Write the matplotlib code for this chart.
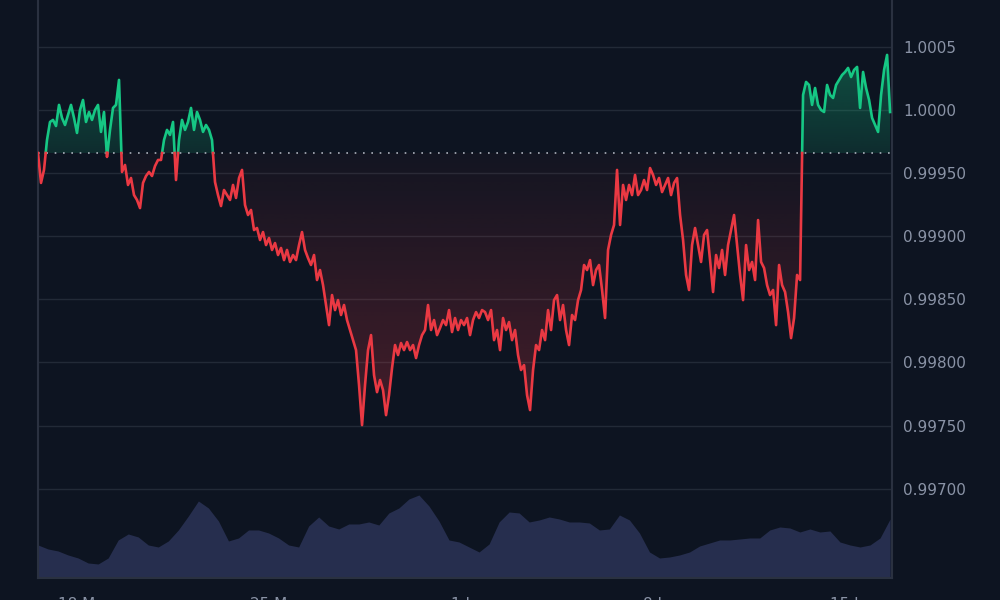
import numpy as np
import pandas as pd
import matplotlib
matplotlib.use("Agg")
import matplotlib.pyplot as plt
import matplotlib.dates as mdates
from matplotlib.colors import to_rgb

# colours
bg = "#0d1421"
green = "#16c784"
red = "#ea3943"
vol_color = "#262e4e"
grid_color = "#222a37"
text_color = "#8a93a6"

# price series (~2.6 h steps)
prices = [
    0.999659, 0.999422, 0.999525, 0.999762, 0.999905, 0.999921, 0.999873, 1.000040,
    0.999937, 0.999881, 0.999960, 1.000040, 0.999937, 0.999818, 1.000000, 1.000079,
    0.999905, 0.999984, 0.999921, 1.000000, 1.000040, 0.999826, 0.999984, 0.999628,
    0.999842, 1.000016, 1.000040, 1.000238, 0.999509, 0.999564, 0.999406, 0.999461,
    0.999326, 0.999287, 0.999223, 0.999422, 0.999477, 0.999509, 0.999477, 0.999556,
    0.999604, 0.999604, 0.999762, 0.999842, 0.999802, 0.999905, 0.999445, 0.999762,
    0.999921, 0.999842, 0.999905, 1.000016, 0.999842, 0.999984, 0.999921, 0.999826,
    0.999881, 0.999842, 0.999762, 0.999429, 0.999326, 0.999239, 0.999366, 0.999326,
    0.999287, 0.999406, 0.999303, 0.999461, 0.999525, 0.999247, 0.999168, 0.999208,
    0.999049, 0.999065, 0.998970, 0.999033, 0.998930, 0.998986, 0.998891, 0.998946,
    0.998851, 0.998907, 0.998811, 0.998891, 0.998796, 0.998851, 0.998811, 0.998930,
    0.999033, 0.998891, 0.998827, 0.998772, 0.998851, 0.998653, 0.998732, 0.998613,
    0.998455, 0.998296, 0.998534, 0.998415, 0.998494, 0.998376, 0.998455, 0.998336,
    0.998257, 0.998177, 0.998098, 0.997821, 0.997504, 0.997821, 0.998098, 0.998217,
    0.997900, 0.997765, 0.997861, 0.997781, 0.997583, 0.997742, 0.997956, 0.998138,
    0.998059, 0.998154, 0.998098, 0.998162, 0.998098, 0.998138, 0.998035, 0.998138,
    0.998217, 0.998257, 0.998455, 0.998257, 0.998336, 0.998217, 0.998273, 0.998336,
    0.998296, 0.998415, 0.998241, 0.998352, 0.998257, 0.998336, 0.998296, 0.998352,
    0.998217, 0.998336, 0.998399, 0.998352, 0.998415, 0.998399, 0.998336, 0.998415,
    0.998177, 0.998257, 0.998098, 0.998352, 0.998257, 0.998320, 0.998177, 0.998257,
    0.998059, 0.997940, 0.997979, 0.997742, 0.997623, 0.997940, 0.998138, 0.998098,
    0.998257, 0.998177, 0.998415, 0.998257, 0.998494, 0.998534, 0.998336, 0.998455,
    0.998257, 0.998138, 0.998376, 0.998336, 0.998494, 0.998574, 0.998772, 0.998732,
    0.998811, 0.998613, 0.998732, 0.998772, 0.998574, 0.998352, 0.998891, 0.999010,
    0.999089, 0.999525, 0.999089, 0.999406, 0.999287, 0.999406, 0.999326, 0.999485,
    0.999326, 0.999366, 0.999445, 0.999366, 0.999540, 0.999485, 0.999406, 0.999461,
    0.999350, 0.999406, 0.999461, 0.999326, 0.999422, 0.999461, 0.999168, 0.998970,
    0.998693, 0.998574, 0.998930, 0.999065, 0.998930, 0.998796, 0.999010, 0.999049,
    0.998811, 0.998558, 0.998851, 0.998748, 0.998891, 0.998693, 0.998930, 0.999049,
    0.999168, 0.998930, 0.998693, 0.998494, 0.998930, 0.998732, 0.998796, 0.998653,
    0.999128, 0.998796, 0.998748, 0.998613, 0.998534, 0.998574, 0.998296, 0.998772,
    0.998613, 0.998558, 0.998399, 0.998193, 0.998352, 0.998693, 0.998653, 1.000119,
    1.000222, 1.000198, 1.000040, 1.000174, 1.000040, 1.000000, 0.999984, 1.000198,
    1.000119, 1.000095, 1.000198, 1.000238, 1.000277, 1.000301, 1.000333, 1.000261,
    1.000317, 1.000341, 1.000016, 1.000301, 1.000174, 1.000079, 0.999937, 0.999881,
    0.999826, 1.000119, 1.000317, 1.000436, 0.999984,
]

# volume, billions (~8.7 h steps)
volume = [
    3.3, 2.9, 2.7, 2.3, 2.0, 1.5, 1.4, 2.0, 3.8, 4.4, 4.1, 3.3, 3.1, 3.7, 4.8, 6.2,
    7.7, 7.0, 5.7, 3.7, 4.0, 4.8, 4.8, 4.5, 4.0, 3.3, 3.1, 5.2, 6.1, 5.2, 4.9, 5.4,
    5.4, 5.6, 5.3, 6.5, 7.0, 7.9, 8.3, 7.2, 5.7, 3.8, 3.6, 3.1, 2.6, 3.4, 5.6, 6.6,
    6.5, 5.6, 5.8, 6.1, 5.9, 5.6, 5.6, 5.5, 4.8, 4.9, 6.3, 5.8, 4.5, 2.6, 2.0, 2.1,
    2.3, 2.6, 3.2, 3.5, 3.8, 3.8, 3.9, 4.0, 4.0, 4.8, 5.1, 5.0, 4.6, 4.9, 4.6, 4.7,
    3.6, 3.3, 3.1, 3.3, 4.0, 5.9,
]

start = "2024-05-16 06:00"
end = "2024-06-16 07:30"
ytick_vals = [0.9970, 0.9975, 0.9980, 0.9985, 0.9990, 0.9995, 1.0000, 1.0005]
ytick_labels = ["0.99700", "0.99750", "0.99800", "0.99850", "0.99900", "0.99950", "1.0000", "1.0005"]
xtick_dates = ["2024-05-18", "2024-05-25", "2024-06-01", "2024-06-08", "2024-06-15"]
xtick_labels = ["18 May", "25 May", "1 Jun", "8 Jun", "15 Jun"]

x = mdates.date2num(pd.date_range(start, end, periods=len(prices)))
xv = mdates.date2num(pd.date_range(start, end, periods=len(volume)))
y = np.array(prices)
base = prices[0]

# add the points where the line crosses the baseline
xs, ys = [x[0]], [y[0]]
for i in range(1, len(x)):
    if (y[i - 1] - base) * (y[i] - base) < 0:
        f = (base - y[i - 1]) / (y[i] - y[i - 1])
        xs.append(x[i - 1] + f * (x[i] - x[i - 1]))
        ys.append(base)
    xs.append(x[i])
    ys.append(y[i])
xs = np.array(xs)
ys = np.array(ys)
up = np.where(ys >= base, ys, np.nan)
dn = np.where(ys <= base, ys, np.nan)


def grad_fill(ax, xx, ytop, ybot, color, a_top, a_bot, y0, y1):
    poly = ax.fill_between(xx, ytop, ybot, color="none", lw=0)
    img = np.zeros((256, 1, 4))
    img[..., :3] = to_rgb(color)
    img[..., 3] = np.linspace(a_top, a_bot, 256)[:, None]
    im = ax.imshow(img, aspect="auto", extent=[xx[0], xx[-1], y0, y1],
                   origin="upper", zorder=1, interpolation="bilinear")
    im.set_clip_path(poly.get_paths()[0], transform=ax.transData)


fig = plt.figure(figsize=(10, 6), dpi=100, facecolor=bg)
ax = fig.add_axes([0.038, 0.0367, 0.854, 0.9633])
ax2 = ax.twinx()

# volume at the bottom
ax2.fill_between(xv, volume, 0, color=vol_color, lw=0)
ax2.set_ylim(0, 57.8)
ax2.set_axis_off()

ax.set_zorder(ax2.get_zorder() + 1)
ax.patch.set_visible(False)

grad_fill(ax, xs, np.maximum(ys, base), base, green, 0.34, 0.14, base, ys.max())
grad_fill(ax, xs, base, np.minimum(ys, base), red, 0.03, 0.26, ys.min(), base)

ax.plot(xs, up, color=green, lw=1.9, zorder=3)
ax.plot(xs, dn, color=red, lw=1.9, zorder=3)
ax.axhline(base, color="#c7ccd6", lw=1.2, ls=(0, (1, 4)), alpha=0.85, zorder=2)

ax.set_xlim(x[0], x[-1] + 0.07)
ax.set_ylim(0.996293, 1.000871)
ax.set_yticks(ytick_vals, ytick_labels)
ax.set_xticks(mdates.date2num(pd.to_datetime(xtick_dates)), xtick_labels)
ax.yaxis.tick_right()
ax.grid(axis="y", color=grid_color, lw=1)
ax.set_axisbelow(True)
ax.tick_params(axis="y", length=0, pad=8, labelcolor=text_color, labelsize=11)
ax.tick_params(axis="x", length=0, pad=14, labelcolor=text_color, labelsize=11)
ax.spines["top"].set_visible(False)
for s in ["left", "right", "bottom"]:
    ax.spines[s].set_color("#2a3140")
    ax.spines[s].set_linewidth(1.5)

fig.savefig("out.png", dpi=100, facecolor=bg)
